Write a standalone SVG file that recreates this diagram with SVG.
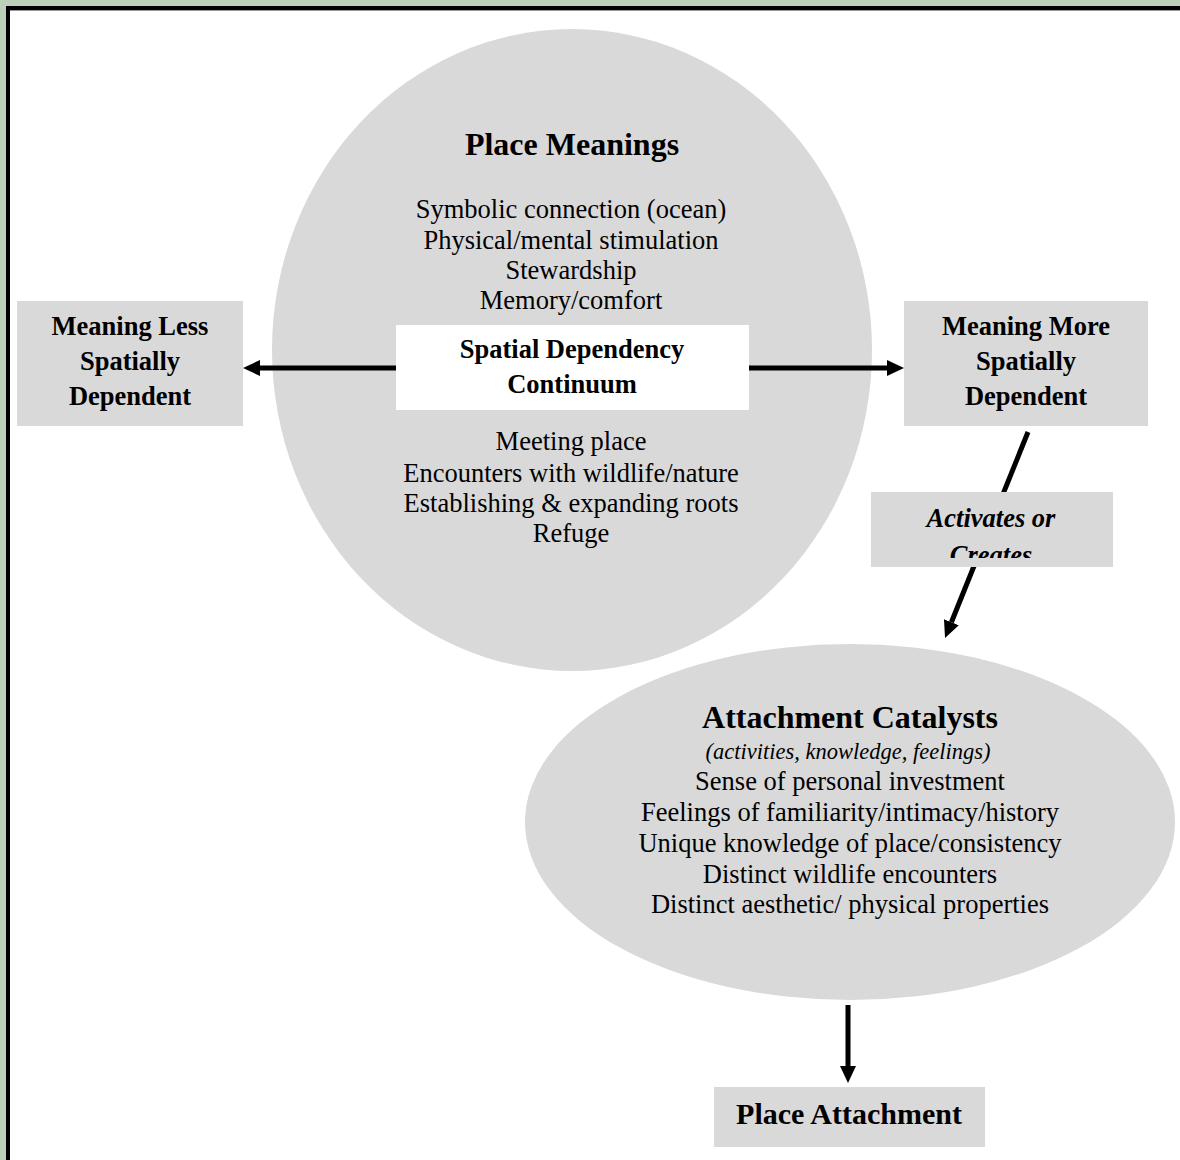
<svg xmlns="http://www.w3.org/2000/svg" width="1180" height="1160" viewBox="0 0 1180 1160" font-family="Liberation Serif, serif">
<style>
text{fill:#000;text-anchor:middle;font-family:"Liberation Serif","Times New Roman",serif}
.b{font-weight:bold}
.t{font-size:32px;font-weight:bold}
.n{font-size:26.5px}
.s{font-size:26.5px;font-weight:bold}
.g{fill:#d9d9d9}
.c{stroke:#000;stroke-width:5;fill:none}
</style>
<defs>
<marker id="ah" markerWidth="17" markerHeight="16" refX="0" refY="8" orient="auto" markerUnits="userSpaceOnUse" viewBox="0 0 17 16">
<path d="M0,0 L17,8 L0,16 z" fill="#000"/>
</marker>
<clipPath id="clipAct"><rect x="871" y="492" width="242" height="66"/></clipPath>
</defs>
<rect x="0" y="0" width="1180" height="1160" fill="#bccfb8"/>
<rect x="8" y="8" width="1200" height="1200" fill="#fff" stroke="#000" stroke-width="4"/>
<line x1="10" y1="10.5" x2="1180" y2="10.5" stroke="#999" stroke-width="1"/>

<g id="place-meanings">
<ellipse cx="572" cy="350" rx="300" ry="321" class="g"/>
<text x="572" y="155" class="t">Place Meanings</text>
<text x="571" y="218" class="n">Symbolic connection (ocean)</text>
<text x="571" y="249" class="n">Physical/mental stimulation</text>
<text x="571" y="279" class="n">Stewardship</text>
<text x="571" y="309" class="n">Memory/comfort</text>
<text x="571" y="450" class="n">Meeting place</text>
<text x="571" y="482" class="n">Encounters with wildlife/nature</text>
<text x="571" y="512" class="n">Establishing &amp; expanding roots</text>
<text x="571" y="542" class="n">Refuge</text>
</g>

<g id="continuum">
<rect x="396" y="325" width="353" height="85" fill="#fff"/>
<text x="572" y="358" class="s">Spatial Dependency</text>
<text x="572" y="393" class="s">Continuum</text>
</g>

<g id="less">
<rect x="17" y="301" width="226" height="125" class="g"/>
<text x="130" y="335" class="s">Meaning Less</text>
<text x="130" y="370" class="s">Spatially</text>
<text x="130" y="405" class="s">Dependent</text>
</g>

<g id="more">
<rect x="904" y="301" width="244" height="125" class="g"/>
<text x="1026" y="335" class="s">Meaning More</text>
<text x="1026" y="370" class="s">Spatially</text>
<text x="1026" y="405" class="s">Dependent</text>
</g>

<g id="catalysts">
<ellipse cx="850" cy="822" rx="325" ry="178" class="g"/>
<text x="850" y="728" class="t">Attachment Catalysts</text>
<text x="848" y="759" font-size="22.5" font-style="italic">(activities, knowledge, feelings)</text>
<text x="850" y="790" class="n">Sense of personal investment</text>
<text x="850" y="821" class="n">Feelings of familiarity/intimacy/history</text>
<text x="850" y="852" class="n">Unique knowledge of place/consistency</text>
<text x="850" y="883" class="n">Distinct wildlife encounters</text>
<text x="850" y="913" class="n">Distinct aesthetic/ physical properties</text>
</g>

<g id="attachment">
<rect x="714" y="1087" width="271" height="60" class="g"/>
<text x="849" y="1124" class="b" font-size="30">Place Attachment</text>
</g>

<g id="connectors">
<line x1="396" y1="368" x2="260" y2="368" class="c" marker-end="url(#ah)"/>
<line x1="749" y1="368" x2="887" y2="368" class="c" marker-end="url(#ah)"/>
<line x1="1028" y1="432" x2="951.4" y2="622.2" class="c" marker-end="url(#ah)"/>
<line x1="848" y1="1005" x2="848" y2="1066" class="c" marker-end="url(#ah)"/>
</g>

<g id="activates">
<rect x="871" y="492" width="242" height="75" class="g"/>
<g clip-path="url(#clipAct)">
<text x="991" y="527" class="s" font-style="italic">Activates or</text>
<text x="991" y="564" class="s" font-style="italic">Creates</text>
</g>
</g>
</svg>
